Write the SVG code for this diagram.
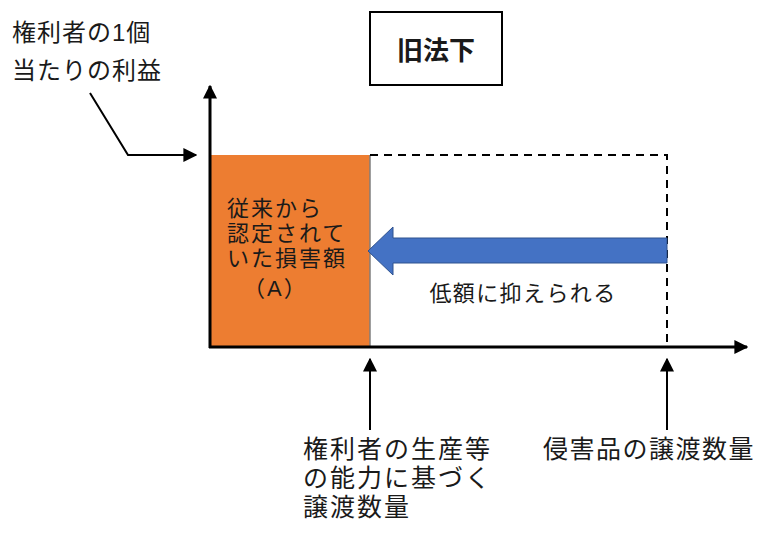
<svg xmlns="http://www.w3.org/2000/svg" width="763" height="536" viewBox="0 0 763 536">
<defs>
<style>
.t{font-family:"Liberation Sans","Noto Sans CJK JP",sans-serif;fill:#1a1a1a}
.ax{stroke:#000;stroke-width:3;fill:none}
.ln{stroke:#000;stroke-width:2;fill:none}
.ds{stroke:#000;stroke-width:2;fill:none;stroke-dasharray:8,6}
</style>
<marker id="ah2" viewBox="0 0 10 10" refX="9" refY="5" markerWidth="14" markerHeight="14" orient="auto" markerUnits="userSpaceOnUse">
<path d="M0,0 L10,5 L0,10 Z" fill="#000"/>
</marker>
</defs>
<rect width="763" height="536" fill="#fff"/>

<g id="title">
<rect x="370" y="12" width="132" height="73" fill="#fff" stroke="#000" stroke-width="2"/>
<text class="t" x="436" y="60" font-size="26" font-weight="bold" text-anchor="middle">旧法下</text>
</g>

<g id="damage-A">
<rect x="210" y="155" width="160" height="192" fill="#ED7D31"/>
<line x1="370" y1="155" x2="370" y2="347" stroke="#7f7f7f" stroke-width="1.5"/>
<text class="t" font-size="22" letter-spacing="2">
<tspan x="227" y="216">従来から</tspan>
<tspan x="227" y="241">認定されて</tspan>
<tspan x="227" y="266">いた損害額</tspan>
<tspan x="243" y="296">（A）</tspan>
</text>
</g>

<g id="infringing-area">
<path class="ds" d="M370,155 H667 V347"/>
</g>

<g id="reduction-arrow">
<path d="M667,238 H393 V227 L368,251 L393,275 V263 H667 Z" fill="#4472C4" stroke="#2F528F" stroke-width="1"/>
<text class="t" x="523" y="301" font-size="22" letter-spacing="1.4" text-anchor="middle">低額に抑えられる</text>
</g>

<g id="label-profit">
<text class="t" font-size="24" letter-spacing="1">
<tspan x="12" y="41">権利者の1個</tspan>
<tspan x="12" y="79">当たりの利益</tspan>
</text>
</g>

<g id="label-capacity">
<text class="t" font-size="25" letter-spacing="2">
<tspan x="303" y="458">権利者の生産等</tspan>
<tspan x="303" y="487">の能力に基づく</tspan>
<tspan x="303" y="516">譲渡数量</tspan>
</text>
</g>

<g id="label-infringing">
<text class="t" x="543" y="458" font-size="25" letter-spacing="1.5">侵害品の譲渡数量</text>
</g>

<g id="connectors">
<line class="ax" x1="210" y1="348" x2="210" y2="86" marker-end="url(#ah2)"/>
<line class="ax" x1="209" y1="347" x2="747" y2="347" marker-end="url(#ah2)"/>
<polyline class="ln" points="90,93 128,155 196,155" marker-end="url(#ah2)"/>
<line class="ln" x1="370" y1="430" x2="370" y2="359" marker-end="url(#ah2)"/>
<line class="ln" x1="667" y1="430" x2="667" y2="359" marker-end="url(#ah2)"/>
</g>
</svg>
